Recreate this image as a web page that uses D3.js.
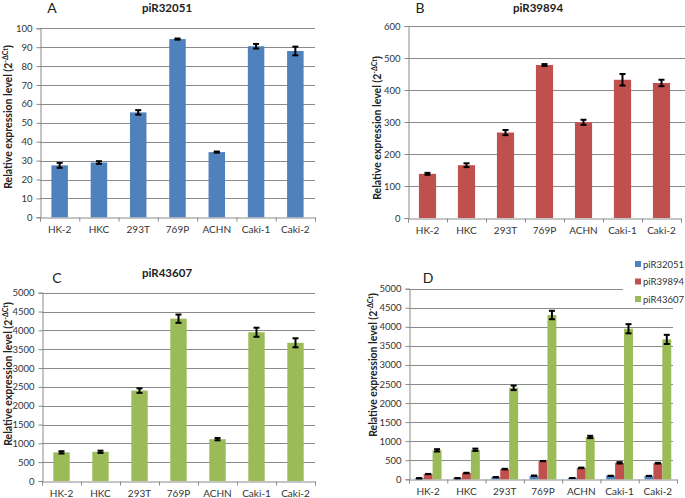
<!DOCTYPE html>
<html><head><meta charset="utf-8">
<script src="https://cdn.jsdelivr.net/npm/d3@7"></script>
<style>body{margin:0;background:#fff}svg{display:block}text{font-family:Lato,"Open Sans",sans-serif}</style>
</head><body>
<svg id="c" width="685" height="498"></svg>
<script>
const categories = ["HK-2","HKC","293T","769P","ACHN","Caki-1","Caki-2"];
const series = ["piR32051","piR39894","piR43607"];
const piR32051 = [27.5, 29, 55.5, 94.3, 34.5, 90.5, 88];
const piR32051Err = [1.3, 0.7, 1.2, 0.3, 0.3, 1.2, 2.3];
const piR39894 = [138, 165, 267, 478, 299, 432, 422];
const piR39894Err = [3, 6, 8, 3, 8, 18, 10];
const piR43607 = [760, 775, 2400, 4310, 1110, 3950, 3670];
const piR43607Err = [30, 30, 60, 110, 30, 120, 120];
const ticksA = [0,10,20,30,40,50,60,70,80,90,100];
const ticksB = [0,100,200,300,400,500,600];
const ticksC = [0,500,1000,1500,2000,2500,3000,3500,4000,4500,5000];
const colors = {piR32051:"#4F81BD", piR39894:"#C0504D", piR43607:"#9BBB59"};
const values = {piR32051, piR39894, piR43607};
const errs = {piR32051:piR32051Err, piR39894:piR39894Err, piR43607:piR43607Err};

const svg = d3.select("#c");
const gridColor = "#8a8a8a";

function panel(opt){
  const g = svg.append("g");
  const y = d3.scaleLinear().domain([0, opt.ticks[opt.ticks.length-1]]).range([opt.yb, opt.yt]);
  const x = d3.scaleBand().domain(categories).range([opt.x0, opt.x1]).paddingInner(opt.pin).paddingOuter(opt.pout);
  g.selectAll(".grid").data(opt.ticks.filter(t=>t>0)).join("line")
    .attr("x1", opt.x0).attr("x2", d => (opt.gridEnd && d===opt.ticks[opt.ticks.length-1]) ? opt.gridEnd : opt.gridRight||opt.x1)
    .attr("y1", d=>Math.round(y(d))+0.5).attr("y2", d=>Math.round(y(d))+0.5)
    .attr("stroke", gridColor).attr("stroke-width",1);
  const ya = g.append("g").attr("transform",`translate(${Math.round(opt.x0)+0.5},0)`)
    .call(d3.axisLeft(y).tickValues(opt.ticks).tickSize(4).tickPadding(4).tickFormat(d3.format("d")));
  ya.select(".domain").attr("stroke", gridColor);
  ya.selectAll(".tick line").attr("stroke", gridColor);
  ya.selectAll(".tick text").attr("font-size","9.5px").attr("fill","#333");
  const xb = d3.scaleLinear().domain([0,7]).range([opt.x0, opt.x1]);
  const xa = g.append("g").attr("transform",`translate(0,${Math.round(opt.yb)+0.5})`)
    .call(d3.axisBottom(xb).tickValues(d3.range(0,8)).tickSize(4).tickFormat(""));
  xa.select(".domain").attr("stroke", gridColor);
  xa.selectAll(".tick line").attr("stroke", gridColor);
  g.selectAll(".xl").data(categories).join("text")
    .attr("x", d=>x(d)+x.bandwidth()/2).attr("y", opt.yb+16)
    .attr("text-anchor","middle").attr("font-size","10px").attr("fill","#333").text(d=>d);
  const drawBars = (name, xs) => {
    const v = values[name], e = errs[name];
    const bg = g.append("g");
    bg.selectAll("rect").data(categories).join("rect")
      .attr("x", (d)=>xs(d)).attr("width", xs.bw)
      .attr("y", (d,i)=>y(v[i])).attr("height", (d,i)=>opt.yb - y(v[i]))
      .attr("fill", colors[name]);
    const eg = bg.selectAll("g.e").data(categories).join("g");
    eg.append("line").attr("x1",(d)=>xs(d)+xs.bw/2).attr("x2",(d)=>xs(d)+xs.bw/2)
      .attr("y1",(d,i)=>y(v[i]-e[i])).attr("y2",(d,i)=>y(v[i]+e[i]))
      .attr("stroke","#000").attr("stroke-width",2);
    ["-","+"].forEach(s=>{
      eg.append("line").attr("x1",(d)=>xs(d)+xs.bw/2-3).attr("x2",(d)=>xs(d)+xs.bw/2+3)
        .attr("y1",(d,i)=>y(v[i]+(s==="+"?e[i]:-e[i]))).attr("y2",(d,i)=>y(v[i]+(s==="+"?e[i]:-e[i])))
        .attr("stroke","#000").attr("stroke-width",2);
    });
  };
  if(opt.series.length===1){
    const xs = d=>x(d); xs.bw = x.bandwidth();
    drawBars(opt.series[0], xs);
  } else {
    const xi = d3.scaleBand().domain(opt.series).range([0, x.bandwidth()]);
    opt.series.forEach(s=>{
      const xs = d=>x(d)+xi(s); xs.bw = xi.bandwidth();
      drawBars(s, xs);
    });
  }
  const yl = g.append("text").attr("transform",`translate(${opt.ylx},${opt.yly}) rotate(-90)`)
    .attr("text-anchor","middle").attr("font-size","10.5px").attr("font-weight","bold").attr("fill","#222");
  yl.append("tspan").text("Relative expression level (2");
  yl.append("tspan").attr("font-size","7px").attr("dy","-4").text("-ΔCt");
  yl.append("tspan").attr("dy","4").text(")");
  if(opt.title) g.append("text").attr("x",opt.tx).attr("y",opt.ty).attr("text-anchor","middle")
    .attr("font-size","11.5px").attr("font-weight","bold").attr("fill","#222").text(opt.title);
  g.append("text").attr("x",opt.lx).attr("y",opt.ly).attr("text-anchor","middle")
    .attr("font-size","14px").attr("fill","#222").text(opt.letter);
  return g;
}

panel({series:["piR32051"], ticks:ticksA, x0:40, x1:315, yt:28.3, yb:217.3, pin:0.58, pout:0.29,
  ylx:12, yly:117, title:"piR32051", tx:167, ty:12, letter:"A", lx:52, ly:13});
panel({series:["piR39894"], ticks:ticksB, x0:408, x1:681, yt:26, yb:218, pin:0.56, pout:0.28, gridRight:685,
  ylx:381, yly:128, title:"piR39894", tx:538, ty:12, letter:"B", lx:420, ly:13});
panel({series:["piR43607"], ticks:ticksC, x0:42, x1:315, yt:292.7, yb:481, pin:0.58, pout:0.29,
  ylx:12, yly:374, title:"piR43607", tx:167, ty:277, letter:"C", lx:57, ly:283});
panel({series:series, ticks:ticksC, x0:409, x1:677, yt:288.7, yb:479.3, pin:0.3, pout:0.15, gridEnd:623, gridRight:673,
  ylx:377, yly:365, title:null, letter:"D", lx:428, ly:283});

const lg = svg.append("g");
series.forEach((s,i)=>{
  const yy = 264 + i*17.5;
  lg.append("rect").attr("x",635).attr("y",yy-3).attr("width",6).attr("height",6).attr("fill",colors[s]);
  lg.append("text").attr("x",643).attr("y",yy+3.5).attr("font-size","9.5px").attr("fill","#333").text(s);
});
</script>
</body></html>
